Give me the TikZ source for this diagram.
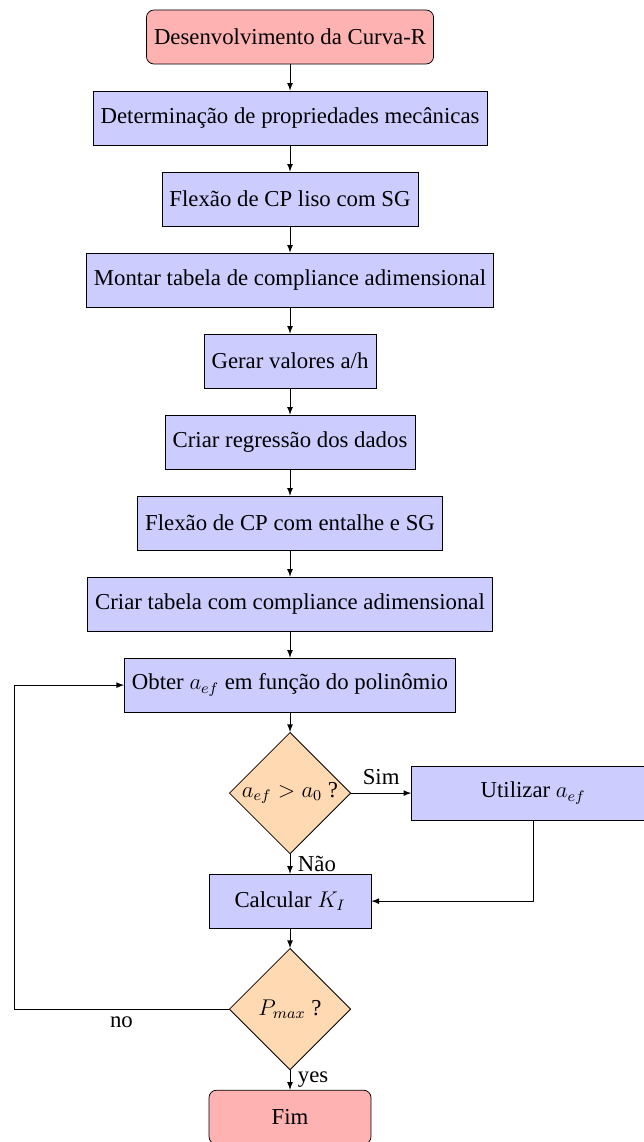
\documentclass[tikz,border=0pt,12pt]{standalone}
\usepackage{fontspec}
\setmainfont{Liberation Serif}
\usetikzlibrary{shapes.geometric,positioning}

\tikzset{   startstop/.style={rectangle,rounded corners,draw=black,fill=red!30,minimum width=3cm,minimum height=1cm,text centered},
            process/.style={rectangle,draw=black,fill=blue!20,minimum width=3cm,minimum height=1cm,text centered},
            decision/.style={diamond,draw=black,fill=orange!30,minimum size=2.25cm,inner sep=0pt,text centered},
            arrow/.style={->,>=latex},
}

\begin{document}
\begin{tikzpicture}[node distance=1.5cm, on grid]
    \useasboundingbox (-5.37,0.685) rectangle (6.537,-20.46);

    \node[startstop] (start) {Desenvolvimento da Curva-R}; % steps
    \node[process, below=of start] (prop) {Determinação de propriedades mecânicas};
    \node[process, below=of prop] (liso) {Flexão de CP liso com SG};
    \node[process, below=of liso] (montar) {Montar tabela de compliance adimensional};
    \node[process, below=of montar] (gerar) {Gerar valores a/h};
    \node[process, below=of gerar] (regr) {Criar regressão dos dados};
    \node[process, below=of regr] (entalhe) {Flexão de CP com entalhe e SG};
    \node[process, below=of entalhe] (tabela) {Criar tabela com compliance adimensional};
    \node[process, below=of tabela] (obter) {Obter $a_{ef}$ em função do polinômio};

    \node[decision, below=2cm of obter] (dec1) {$a_{ef} > a_0$ ?}; % decisions
    \node[process, right=4.5cm of dec1, minimum width=4.5cm] (util) {Utilizar $a_{ef}$};
    \node[process, below=2cm of dec1] (calc) {Calcular $K_I$};
    \node[decision, below=2cm of calc] (dec2) {$P_{max}$ ?};
    \node[startstop, below=2cm of dec2] (fim) {Fim};
    \coordinate[left=5.11cm of dec2] (volta);

    \draw[arrow] (start) -- (prop); % arrows
    \draw[arrow] (prop) -- (liso);
    \draw[arrow] (liso) -- (montar);
    \draw[arrow] (montar) -- (gerar);
    \draw[arrow] (gerar) -- (regr);
    \draw[arrow] (regr) -- (entalhe);
    \draw[arrow] (entalhe) -- (tabela);
    \draw[arrow] (tabela) -- (obter);
    \draw[arrow] (obter) -- (dec1);
    \draw[arrow] (dec1) -- node[anchor=south] {Sim} (util);
    \draw[arrow] (dec1) -- node[anchor=west] {Não} (calc);
    \draw[arrow] (util) |- (calc);
    \draw[arrow] (calc) -- (dec2);
    \draw[arrow] (dec2) -- node[anchor=west] {yes} (fim);
    \draw[arrow] (dec2) -- node[anchor=north] {no} (volta) |- (obter);
\end{tikzpicture}
\end{document}
